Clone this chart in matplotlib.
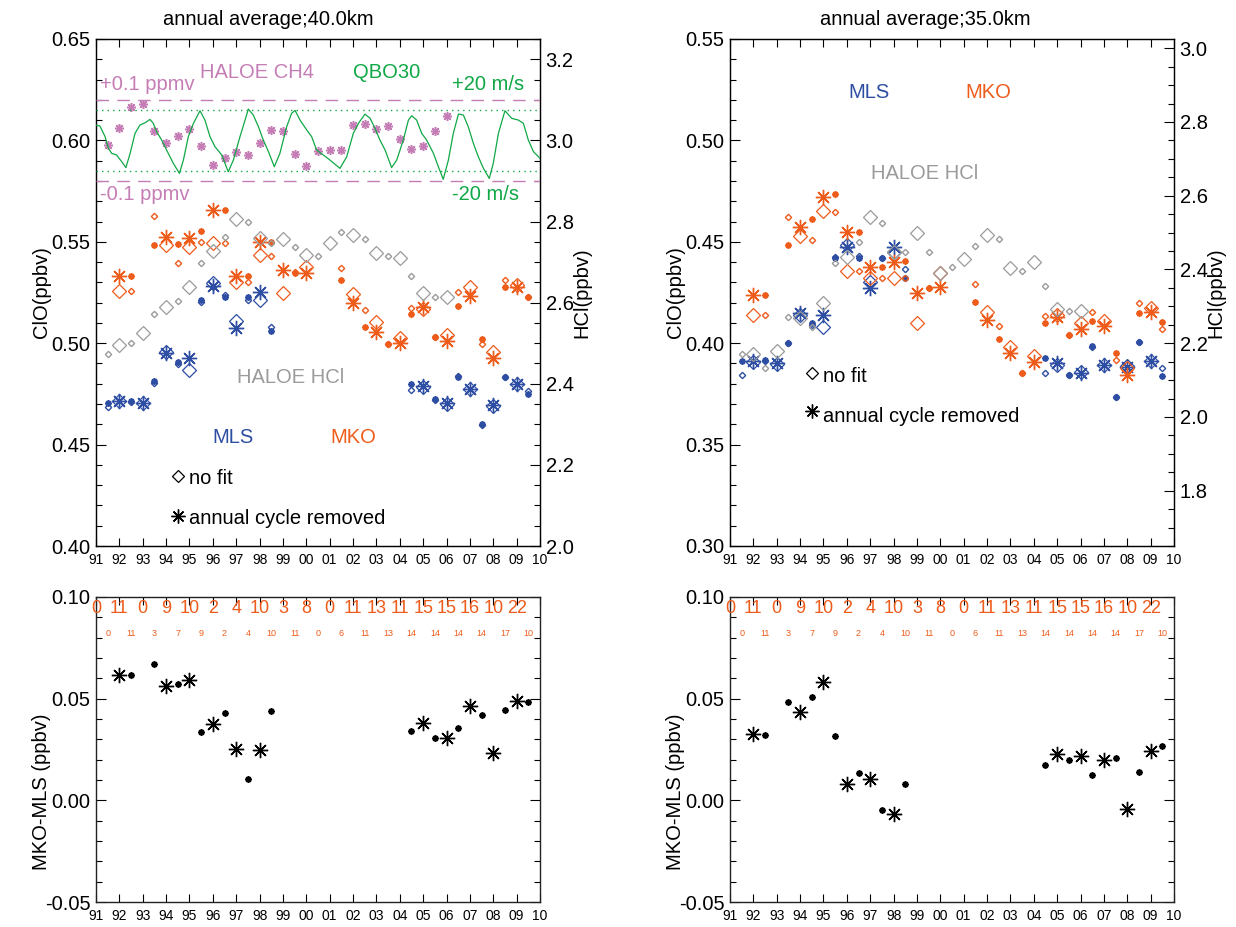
import numpy as np
import matplotlib
matplotlib.use("Agg")
import matplotlib.pyplot as plt
from matplotlib.ticker import MultipleLocator, FormatStrFormatter

plt.rcParams['font.family'] = ['Liberation Sans', 'DejaVu Sans']
plt.rcParams['axes.unicode_minus'] = False

# ---------------- data ----------------
mls_years = [1991.5, 1992.0, 1992.5, 1993.0, 1993.5, 1994.0, 1994.5, 1995.0, 1995.5,
             1996.0, 1996.5, 1997.0, 1997.5, 1998.0, 1998.5,
             2004.5, 2005.0, 2005.5, 2006.0, 2006.5, 2007.0, 2007.5, 2008.0, 2008.5,
             2009.0, 2009.5]
mko_years = [1992.0, 1992.5, 1993.5, 1994.0, 1994.5, 1995.0, 1995.5, 1996.0, 1996.5,
             1997.0, 1997.5, 1998.0, 1998.5, 1999.0, 1999.5, 2000.0, 2001.5, 2002.0,
             2002.5, 2003.0, 2003.5, 2004.0, 2004.5, 2005.0, 2005.5, 2006.0, 2006.5,
             2007.0, 2007.5, 2008.0, 2008.5, 2009.0, 2009.5]
haloe_years = [1991.5, 1992.0, 1992.5, 1993.0, 1993.5, 1994.0, 1994.5, 1995.0, 1995.5,
               1996.0, 1996.5, 1997.0, 1997.5, 1998.0, 1998.5, 1999.0, 1999.5, 2000.0,
               2000.5, 2001.0, 2001.5, 2002.0, 2002.5, 2003.0, 2003.5, 2004.0, 2004.5,
               2005.0, 2005.5, 2006.0]
diff_years = [1992.0, 1992.5, 1993.5, 1994.0, 1994.5, 1995.0, 1995.5, 1996.0, 1996.5,
              1997.0, 1997.5, 1998.0, 1998.5, 2004.5, 2005.0, 2005.5, 2006.0, 2006.5,
              2007.0, 2007.5, 2008.0, 2008.5, 2009.0, 2009.5]

# 40 km
mls40_acr = [0.4703, 0.4717, 0.4715, 0.4707, 0.4812, 0.4953, 0.4909, 0.4925, 0.5213,
             0.5282, 0.5229, 0.5077, 0.5226, 0.5254, 0.5060,
             0.4799, 0.4790, 0.4723, 0.4707, 0.4835, 0.4775, 0.4600, 0.4695, 0.4832,
             0.4797, 0.4750]
mls40_nofit = [0.4684, 0.4715, 0.4712, 0.4705, 0.4805, 0.4958, 0.4898, 0.4868, 0.5202,
               0.5298, 0.5238, 0.5109, 0.5213, 0.5213, 0.5082,
               0.4769, 0.4785, 0.4720, 0.4700, 0.4840, 0.4772, 0.4598, 0.4690, 0.4835,
               0.4800, 0.4766]
mko40_acr = [0.5331, 0.5331, 0.5484, 0.5525, 0.5489, 0.5517, 0.5555, 0.5657, 0.5657,
             0.5331, 0.5331, 0.5501, 0.5501, 0.5361, 0.5348, 0.5344, 0.5312, 0.5197,
             0.5082, 0.5057, 0.4996, 0.4999, 0.5144, 0.5177, 0.5029, 0.5013, 0.5185,
             0.5233, 0.5021, 0.4925, 0.5275, 0.5279, 0.5226]
mko40_nofit = [0.5257, 0.5257, 0.5629, 0.5484, 0.5397, 0.5476, 0.5501, 0.5496, 0.5492,
               0.5303, 0.5303, 0.5433, 0.5432, 0.5246, 0.5350, 0.5377, 0.5369, 0.5243,
               0.5164, 0.5106, 0.4996, 0.5024, 0.5172, 0.5167, 0.5032, 0.5040, 0.5254,
               0.5275, 0.4996, 0.4958, 0.5312, 0.5287, 0.5226]
haloe_hcl40 = [2.473, 2.496, 2.501, 2.524, 2.571, 2.590, 2.605, 2.639, 2.697, 2.727,
               2.763, 2.805, 2.800, 2.760, 2.746, 2.758, 2.738, 2.717, 2.716, 2.746,
               2.773, 2.767, 2.757, 2.723, 2.715, 2.709, 2.666, 2.625, 2.613, 2.615]
haloe_ch4_anom = [-0.012, 0.030, 0.083, 0.090, 0.024, -0.007, 0.011, 0.028, -0.014,
                  -0.061, -0.043, -0.028, -0.036, -0.007, 0.026, 0.022, -0.034, -0.062,
                  -0.026, -0.024, -0.024, 0.038, 0.040, 0.028, 0.035, 0.003, -0.022,
                  -0.015, 0.023, 0.061]
qbo_years = [1991.00, 1991.17, 1991.39, 1991.53, 1991.67, 1991.88, 1992.10, 1992.28,
             1992.46, 1992.67, 1992.88, 1993.10, 1993.31, 1993.45, 1993.60, 1993.81,
             1994.02, 1994.31, 1994.57, 1994.74, 1994.95, 1995.17, 1995.45, 1995.66,
             1995.88, 1996.09, 1996.38, 1996.66, 1996.88, 1997.16, 1997.38, 1997.52,
             1997.73, 1997.95, 1998.16, 1998.38, 1998.63, 1998.87, 1999.16, 1999.37,
             1999.52, 1999.73, 2000.02, 2000.23, 2000.44, 2000.73, 2001.01, 2001.44,
             2001.73, 2002.01, 2002.23, 2002.51, 2002.73, 2002.94, 2003.15, 2003.37,
             2003.65, 2003.87, 2004.15, 2004.37, 2004.51, 2004.72, 2004.94, 2005.15,
             2005.44, 2005.65, 2005.86, 2006.08, 2006.29, 2006.51, 2006.72, 2006.93,
             2007.15, 2007.36, 2007.58, 2007.83, 2008.00, 2008.22, 2008.50, 2008.79,
             2009.07, 2009.29, 2009.50, 2009.72, 2010.00]
qbo_u = [10.1, 9.4, 2.4, -5.2, -8.5, -9.6, -14.0, -17.9, -8.5, 4.6, 10.1, 11.6, 13.8,
         11.2, 5.7, 0.2, -6.3, -15.1, -21.7, -12.9, 2.4, 11.2, 19.5, 13.4, 2.4, -4.1,
         -9.6, -20.6, -12.9, 2.4, 13.4, 20.6, 16.7, 9.0, 0.2, -7.4, -17.3, -8.5, 9.0,
         17.8, 19.7, 13.4, 6.8, 2.4, -6.3, -9.6, -12.9, -18.4, -10.7, 4.6, 11.2, 17.3,
         14.5, 7.9, 0.2, -6.3, -17.9, -12.9, 0.2, 13.4, 16.2, 13.4, 4.6, 0.2, -8.5,
         -17.3, -25.6, -12.9, 4.6, 17.3, 16.7, 9.0, -2.0, -10.7, -18.4, -25.0, -15.1,
         4.6, 19.5, 14.5, 13.4, 11.2, 0.2, -7.4, -11.8]

# 35 km
mls35_acr = [0.3914, 0.3914, 0.3917, 0.3901, 0.4000, 0.4147, 0.4098, 0.4139, 0.4419,
             0.4476, 0.4419, 0.4271, 0.4418, 0.4476, 0.4323,
             0.3925, 0.3901, 0.3843, 0.3851, 0.3986, 0.3893, 0.3736, 0.3885, 0.4008,
             0.3912, 0.3840]
mls35_nofit = [0.3843, 0.3909, 0.3914, 0.3897, 0.4000, 0.4139, 0.4090, 0.4078, 0.4427,
               0.4484, 0.4432, 0.4303, 0.4418, 0.4451, 0.4364,
               0.3851, 0.3893, 0.3843, 0.3860, 0.3983, 0.3893, 0.3736, 0.3888, 0.4008,
               0.3914, 0.3876]
mko35_acr = [0.4238, 0.4238, 0.4484, 0.4575, 0.4612, 0.4719, 0.4736, 0.4550, 0.4550,
             0.4377, 0.4374, 0.4402, 0.4405, 0.4249, 0.4271, 0.4279, 0.4205, 0.4114,
             0.4019, 0.3950, 0.3851, 0.3909, 0.4098, 0.4131, 0.4040, 0.4068, 0.4111,
             0.4085, 0.3950, 0.3843, 0.4147, 0.4155, 0.4106]
mko35_nofit = [0.4139, 0.4139, 0.4624, 0.4528, 0.4509, 0.4654, 0.4649, 0.4358, 0.4358,
               0.4320, 0.4320, 0.4320, 0.4323, 0.4101, 0.4271, 0.4344, 0.4290, 0.4155,
               0.4085, 0.3983, 0.3851, 0.3937, 0.4134, 0.4139, 0.4040, 0.4098, 0.4155,
               0.4111, 0.3917, 0.3876, 0.4197, 0.4172, 0.4068]
haloe_hcl35 = [2.171, 2.171, 2.132, 2.180, 2.270, 2.267, 2.245, 2.310, 2.417, 2.433,
               2.475, 2.542, 2.527, 2.448, 2.448, 2.498, 2.446, 2.390, 2.406, 2.428,
               2.464, 2.494, 2.483, 2.403, 2.397, 2.419, 2.355, 2.293, 2.288, 2.286]

# MKO - MLS (annual cycle removed)
diff40 = [0.0616, 0.0616, 0.0670, 0.0564, 0.0572, 0.0592, 0.0335, 0.0373, 0.0430,
          0.0253, 0.0105, 0.0248, 0.0441, 0.0343, 0.0379, 0.0306, 0.0307, 0.0355,
          0.0466, 0.0422, 0.0232, 0.0444, 0.0487, 0.0482]
diff35 = [0.0324, 0.0320, 0.0485, 0.0433, 0.0510, 0.0583, 0.0315, 0.0078, 0.0134,
          0.0106, -0.0046, -0.0065, 0.0082, 0.0175, 0.0229, 0.0199, 0.0217, 0.0127,
          0.0196, 0.0209, -0.0044, 0.0139, 0.0245, 0.0266]

# number of MKO months
count_years_int = [1991, 1992, 1993, 1994, 1995, 1996, 1997, 1998, 1999, 2000, 2001,
                   2002, 2003, 2004, 2005, 2006, 2007, 2008, 2009]
count_int = [0, 11, 0, 9, 10, 2, 4, 10, 3, 8, 0, 11, 13, 11, 15, 15, 16, 10, 22]
count_years_half = [1991.5, 1992.5, 1993.5, 1994.5, 1995.5, 1996.5, 1997.5, 1998.5,
                    1999.5, 2000.5, 2001.5, 2002.5, 2003.5, 2004.5, 2005.5, 2006.5,
                    2007.5, 2008.5, 2009.5]
count_half = [0, 11, 3, 7, 9, 2, 4, 10, 11, 0, 6, 11, 13, 14, 14, 14, 14, 17, 10]

year_ticks = list(range(1991, 2011))
year_labels = ['%02d' % (y % 100) for y in year_ticks]

# ---------------- style ----------------
BLUE = '#2d4ea2'
ORANGE = '#ee5c1c'
GRAY = '#9b9b9b'
PINK = '#c57db6'
GREEN = '#10a846'
ASTER = (8, 2, 0)
FS = 14.5

W, H = 1236, 927
fig = plt.figure(figsize=(W / 100, H / 100), dpi=100)


def rect(x0, y0, x1, y1):
    return [x0 / W, 1 - y1 / H, (x1 - x0) / W, (y1 - y0) / H]


def split_plot(ax, years, vals, marker, color, big_ms, small_ms, mew_big=0.9, mew_small=1.0):
    yrs = np.asarray(years, dtype=float)
    v = np.asarray(vals, dtype=float)
    big = (yrs % 1 == 0)
    ax.plot(yrs[big], v[big], ls='none', marker=marker, ms=big_ms, mec=color,
            mfc='none', mew=mew_big, clip_on=False)
    ax.plot(yrs[~big], v[~big], ls='none', marker=marker, ms=small_ms, mec=color,
            mfc='none', mew=mew_small, clip_on=False)


def style_xaxis(ax, top=True):
    ax.set_xlim(1991, 2010)
    ax.set_xticks(year_ticks)
    ax.set_xticklabels(year_labels, fontsize=10)
    ax.tick_params(axis='x', direction='in', length=6, width=0.8, top=top, pad=5)
    for s in ax.spines.values():
        s.set_linewidth(1.0)
        s.set_color('#222222')


def style_left(ax, major, minor, fmt, right=False):
    ax.yaxis.set_major_locator(MultipleLocator(major))
    ax.yaxis.set_minor_locator(MultipleLocator(minor))
    ax.yaxis.set_major_formatter(FormatStrFormatter(fmt))
    ax.tick_params(axis='y', which='major', direction='in', length=7, width=0.8,
                   labelsize=FS, right=right, pad=4)
    ax.tick_params(axis='y', which='minor', direction='in', length=4, width=0.8,
                   right=right)


def top_panel(x0, ylim, hlim, mls_acr, mls_nofit, mko_acr, mko_nofit, hcl, title,
              title_x):
    ax = fig.add_axes(rect(x0, 39, x0 + 444, 546))
    ax.set_ylim(*ylim)
    style_xaxis(ax)
    style_left(ax, 0.05, 0.01, '%.2f')
    ax.set_ylabel('ClO(ppbv)', fontsize=FS)
    ax.yaxis.set_label_coords(-0.102, 0.5)
    ax.set_title(title, fontsize=FS, x=title_x, y=1.012)

    axh = ax.twinx()
    axh.set_ylim(*hlim)
    axh.yaxis.set_major_locator(MultipleLocator(0.2))
    axh.yaxis.set_minor_locator(MultipleLocator(0.05))
    axh.yaxis.set_major_formatter(FormatStrFormatter('%.1f'))
    axh.tick_params(axis='y', which='major', direction='in', length=7, width=0.8,
                    labelsize=FS, pad=4)
    axh.tick_params(axis='y', which='minor', direction='in', length=4, width=0.8)
    axh.set_ylabel('HCl(ppbv)', fontsize=FS)
    axh.yaxis.set_label_coords(1.074, 0.5)

    split_plot(axh, haloe_years, hcl, 'D', GRAY, 7, 3.2)
    split_plot(ax, mls_years, mls_nofit, 'D', BLUE, 7, 3.2)
    split_plot(ax, mls_years, mls_acr, ASTER, BLUE, 11, 4.5, 1.0, 1.3)
    split_plot(ax, mko_years, mko_nofit, 'D', ORANGE, 7, 3.2)
    split_plot(ax, mko_years, mko_acr, ASTER, ORANGE, 11, 4.5, 1.0, 1.3)
    return ax, axh


# ---------- top left: 40 km ----------
ax1, ax1h = top_panel(96, (0.40, 0.65), (2.0, 3.25), mls40_acr, mls40_nofit,
                      mko40_acr, mko40_nofit, haloe_hcl40,
                      'annual average;40.0km', 0.388)

# CH4 anomaly and QBO overlays (own invisible scales)
ax_ch4 = ax1.twinx()
ax_ch4.set_ylim(-1.0, 0.25)
ax_ch4.axis('off')
ax_ch4.axhline(0.1, color=PINK, lw=1.0, ls=(0, (9, 6)))
ax_ch4.axhline(-0.1, color=PINK, lw=1.0, ls=(0, (9, 6)))
ax_ch4.plot(haloe_years, haloe_ch4_anom, ls='none', marker=ASTER, ms=6.5, mec=PINK,
            mew=1.1)
ax_qbo = ax1.twinx()
ax_qbo.set_ylim(-266.67, 66.67)
ax_qbo.axis('off')
ax_qbo.axhline(20, color=GREEN, lw=1.0, ls=(0, (1, 3)))
ax_qbo.axhline(-20, color=GREEN, lw=1.0, ls=(0, (1, 3)))
ax_qbo.plot(qbo_years, qbo_u, color=GREEN, lw=0.9)

ax1.text(1991.17, 0.6278, '+0.1 ppmv', color=PINK, fontsize=FS, va='center')
ax1.text(1995.45, 0.6337, 'HALOE CH4', color=PINK, fontsize=FS, va='center')
ax1.text(2002.0, 0.6337, 'QBO30', color=GREEN, fontsize=FS, va='center')
ax1.text(2006.23, 0.6278, '+20 m/s', color=GREEN, fontsize=FS, va='center')
ax1.text(1991.17, 0.5731, '-0.1 ppmv', color=PINK, fontsize=FS, va='center')
ax1.text(2006.23, 0.5731, '-20 m/s', color=GREEN, fontsize=FS, va='center')
ax1.text(1997.03, 0.4833, 'HALOE HCl', color=GRAY, fontsize=FS, va='center')
ax1.text(1996.0, 0.4533, 'MLS', color=BLUE, fontsize=FS, va='center')
ax1.text(2001.01, 0.4533, 'MKO', color=ORANGE, fontsize=FS, va='center')
ax1.plot([1994.51], [0.4347], ls='none', marker='D', ms=6, mec='black', mfc='none', mew=0.9)
ax1.text(1994.98, 0.4335, 'no fit', color='black', fontsize=FS, va='center')
ax1.plot([1994.51], [0.4150], ls='none', marker=ASTER, ms=10, mec='black', mew=1.0)
ax1.text(1994.98, 0.4138, 'annual cycle removed', color='black', fontsize=FS, va='center')

# ---------- top right: 35 km ----------
ax2, ax2h = top_panel(730, (0.30, 0.55), (1.65, 3.025), mls35_acr, mls35_nofit,
                      mko35_acr, mko35_nofit, haloe_hcl35,
                      'annual average;35.0km', 0.44)
ax2.text(1996.05, 0.5234, 'MLS', color=BLUE, fontsize=FS, va='center')
ax2.text(2001.06, 0.5234, 'MKO', color=ORANGE, fontsize=FS, va='center')
ax2.text(1997.03, 0.4839, 'HALOE HCl', color=GRAY, fontsize=FS, va='center')
ax2.plot([1994.51], [0.3851], ls='none', marker='D', ms=6, mec='black', mfc='none', mew=0.9)
ax2.text(1994.98, 0.3836, 'no fit', color='black', fontsize=FS, va='center')
ax2.plot([1994.51], [0.3664], ls='none', marker=ASTER, ms=10, mec='black', mew=1.0)
ax2.text(1994.98, 0.3639, 'annual cycle removed', color='black', fontsize=FS, va='center')


# ---------- bottom panels ----------
def bottom_panel(x0, diff):
    ax = fig.add_axes(rect(x0, 597, x0 + 444, 902))
    ax.set_ylim(-0.05, 0.10)
    style_xaxis(ax)
    style_left(ax, 0.05, 0.01, '%.2f', right=True)
    ax.set_ylabel('MKO-MLS (ppbv)', fontsize=FS)
    ax.yaxis.set_label_coords(-0.102, 0.36)
    split_plot(ax, diff_years, diff, ASTER, 'black', 11, 4.5, 1.0, 1.3)
    for x, n in zip(count_years_int, count_int):
        ax.text(x, 0.0941, str(n), color=ORANGE, fontsize=13, ha='center', va='center')
    for x, n in zip(count_years_half, count_half):
        ax.text(x, 0.0819, str(n), color=ORANGE, fontsize=6.5, ha='center', va='center')
    return ax


bottom_panel(96, diff40)
bottom_panel(730, diff35)

fig.savefig('out.png', dpi=100)
